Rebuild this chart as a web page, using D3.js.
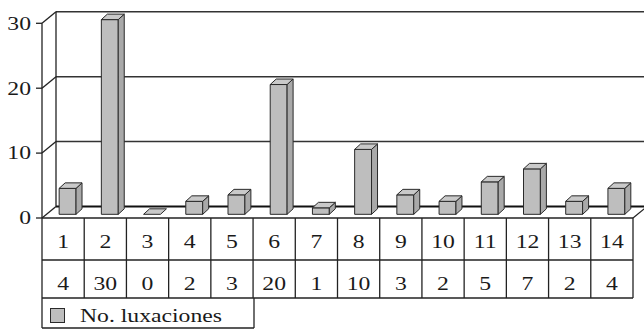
<!DOCTYPE html>
<html>
<head>
<meta charset="utf-8">
<script src="https://cdn.jsdelivr.net/npm/d3@7"></script>
<style>
  html, body { margin: 0; padding: 0; background: #fff; }
  svg { display: block; }
  svg text { font-family: "Liberation Serif", Tinos, "Times New Roman", "DejaVu Serif", serif; }
</style>
</head>
<body>
<svg id="chart" width="644" height="329"></svg>
<script>
// Chart data
const categories = ["1","2","3","4","5","6","7","8","9","10","11","12","13","14"];
const luxaciones = [4, 30, 0, 2, 3, 20, 1, 10, 3, 2, 5, 7, 2, 4];
const yTicks = [0, 10, 20, 30];
const seriesName = "No. luxaciones";

const W = 644, H = 329;
const svg = d3.select("#chart");

// Text is set in a slightly widened serif face
const fontSize = 18.5, widen = 1.28;
function label(parent, tx, ty, str, anchor) {
  return parent.append("text")
    .attr("transform", `translate(${tx},${ty}) scale(${widen},1)`)
    .attr("text-anchor", anchor || "start")
    .attr("font-size", fontSize)
    .attr("fill", "#1a1a1a")
    .text(str);
}

// Front plane of the plot box and its depth offset
const left = 42, right = 633, base = 218, topV = 23.3;
const depthX = 14, depthY = 11.5;          // full depth of the box
const barZ0 = 0.32, barDX = 6, barDY = 5.5; // bar placement inside the box

const x = d3.scaleBand().domain(categories).range([left, right])
  .paddingInner(0.6).paddingOuter(0.3);
const y = d3.scaleLinear().domain([0, 30]).range([base, topV]);

const ink = "#222";

// Back wall gridlines and left wall diagonals
const grid = svg.append("g");
yTicks.forEach(v => {
  const yf = y(v), yb = y(v) - depthY;
  grid.append("line")
    .attr("x1", left + depthX).attr("x2", W)
    .attr("y1", yb).attr("y2", yb)
    .attr("stroke", v === 0 ? "#111" : "#333")
    .attr("stroke-width", v === 0 ? 2.2 : 1.5);
  grid.append("line")
    .attr("x1", left).attr("y1", yf)
    .attr("x2", left + depthX).attr("y2", yb)
    .attr("stroke", "#222").attr("stroke-width", 1.3);
});
// back wall left edge
grid.append("line")
  .attr("x1", left + depthX).attr("x2", left + depthX)
  .attr("y1", y(30) - depthY).attr("y2", y(0) - depthY)
  .attr("stroke", "#222").attr("stroke-width", 1.3);
// floor right edge
grid.append("line")
  .attr("x1", right).attr("y1", base)
  .attr("x2", right + depthX).attr("y2", base - depthY)
  .attr("stroke", "#222").attr("stroke-width", 1.2);

// Front value axis
const axisG = svg.append("g");
axisG.append("line")
  .attr("x1", left).attr("x2", left)
  .attr("y1", y(30)).attr("y2", base)
  .attr("stroke", ink).attr("stroke-width", 1.3);
yTicks.forEach(v => {
  axisG.append("line")
    .attr("x1", left - 6).attr("x2", left)
    .attr("y1", y(v)).attr("y2", y(v))
    .attr("stroke", ink).attr("stroke-width", 1.3);
  label(axisG, 31, y(v) + 6.3, v, "end");
});

// 3D columns
const offX = barZ0 * depthX, offY = barZ0 * depthY;
const bars = svg.append("g");
categories.forEach((c, i) => {
  const v = luxaciones[i];
  const x0 = x(c) + offX, x1 = x0 + x.bandwidth();
  const yb = y(0) - offY, yt = y(v) - offY;
  const g = bars.append("g")
    .attr("stroke", "#2a2a2a").attr("stroke-width", 1).attr("stroke-linejoin", "round");
  if (v > 0) {
    g.append("rect")
      .attr("x", x0).attr("y", yt)
      .attr("width", x1 - x0).attr("height", yb - yt)
      .attr("fill", "#bebebe");
    g.append("polygon")
      .attr("points", [[x1, yb], [x1 + barDX, yb - barDY], [x1 + barDX, yt - barDY], [x1, yt]].join(" "))
      .attr("fill", "#a9a9a9");
  }
  g.append("polygon")
    .attr("points", [[x0, yt], [x0 + barDX, yt - barDY], [x1 + barDX, yt - barDY], [x1, yt]].join(" "))
    .attr("fill", "#c9c9c9");
});

// Data table
const rowTop = 218, row1 = 260, row2 = 298, row3 = 328;
const step = (right - left) / categories.length;
const table = svg.append("g").attr("stroke", ink).attr("stroke-width", 1.3);
[rowTop, row1, row2].forEach(yy => {
  table.append("line").attr("x1", left).attr("x2", right).attr("y1", yy).attr("y2", yy);
});
d3.range(categories.length + 1).forEach(k => {
  const xx = left + k * step;
  table.append("line").attr("x1", xx).attr("x2", xx)
    .attr("y1", rowTop).attr("y2", k === 0 ? row3 : row2);
});
const legendRight = 254;
table.append("line").attr("x1", legendRight).attr("x2", legendRight).attr("y1", row2).attr("y2", row3);
table.append("line").attr("x1", left).attr("x2", legendRight).attr("y1", row3).attr("y2", row3);

const labels = svg.append("g");
categories.forEach((c, i) => {
  const cx = left + (i + 0.5) * step;
  label(labels, cx, 248, c, "middle");
  label(labels, cx, 290, luxaciones[i], "middle");
});

// Legend
svg.append("rect")
  .attr("x", 50.5).attr("y", 308.5).attr("width", 14).attr("height", 14)
  .attr("fill", "#bebebe").attr("stroke", "#2a2a2a").attr("stroke-width", 1);
label(svg, 80, 322, seriesName);
</script>
</body>
</html>
